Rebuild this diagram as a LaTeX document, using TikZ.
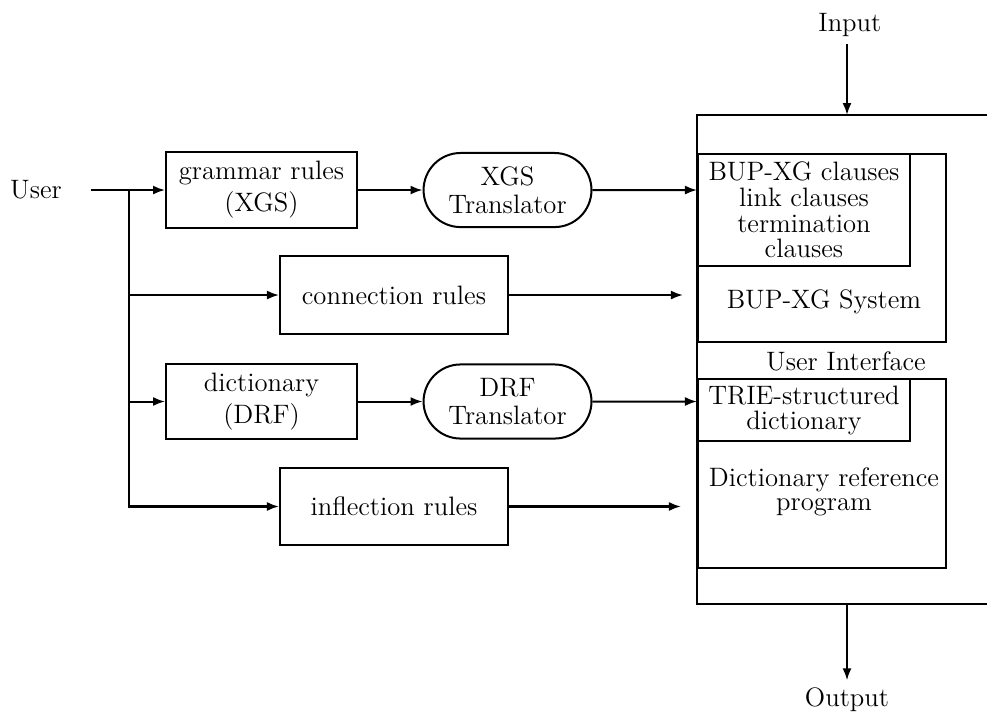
\documentclass[tikz,border=0pt]{standalone}
\usepackage{amsmath}
\usepackage{tikz}
\usetikzlibrary{arrows.meta,shapes.misc}

\begin{document}
\begin{tikzpicture}[font=\fontsize{13.3}{13}\selectfont, line width=1pt,
		>={Latex[length=6pt,width=4.5pt]},
		rulebox/.style={draw, align=center, minimum width=3.35cm, minimum height=1.32cm},
		widebox/.style={draw, align=center, minimum width=4cm, minimum height=1.36cm},
		transbox/.style={draw, rounded rectangle, align=center, minimum width=3.18cm, minimum height=1.3cm},
		subbox/.style={draw, align=center, anchor=north west, minimum width=3.72cm},
		partbox/.style={draw, anchor=north west, minimum width=4.35cm}]
		\useasboundingbox (0,0) rectangle (17.316,12.509);
		
		% left side
		\node (user) at (0.632, 9.175) {User};
		\coordinate (ustart) at (1.596, 9.175);
		\coordinate (branch) at (2.263, 9.175);
		
		\node[rulebox] (grammar) at (4.588, 9.175) {grammar rules\\[3pt](XGS)};
		\node[transbox] (xgs) at (8.904, 9.175) {XGS\\[1pt]Translator};
		\node[widebox] (conn) at (6.912, 7.333) {connection rules};
		\node[rulebox] (dict) at (4.588, 5.465) {dictionary\\[3pt](DRF)};
		\node[transbox] (drf) at (8.904, 5.465) {DRF\\[1pt]Translator};
		\node[widebox] (infl) at (6.912, 3.623) {inflection rules};
		
		% right side
		\coordinate (top) at (14.86, 10.491);
		\coordinate (bottom) at (14.86, 1.912);
		\draw (17.316, 10.491) -- (12.228, 10.491) -- (12.228, 1.912) -- (17.316, 1.912);
		
		\node[partbox, minimum height=3.3cm] (system) at (12.228, 9.825) {};
		\node[subbox, minimum height=1.965cm, font=\fontsize{13.3}{12.8}\selectfont] (clauses) at (12.228, 9.825) {BUP-XG clauses\\link clauses\\termination\\clauses};
		\node (systext) at (14.456, 7.211) {BUP-XG System};
		
		\node (ui) at (14.842, 6.175) {User Interface};
		
		\node[partbox, minimum height=3.316cm] (dictprog) at (12.228, 5.877) {};
		\node[subbox, minimum height=1.07cm, font=\fontsize{13.3}{12.5}\selectfont] (trie) at (12.228, 5.877) {TRIE-structured\\dictionary};
		\node[align=center, font=\fontsize{13.3}{12}\selectfont] (dicttext) at (14.456, 3.877) {Dictionary reference\\program};
		
		\node (input) at (14.91, 12.07) {Input};
		\node (output) at (14.86, 0.228) {Output};
		
		% connections
		\draw[->] (ustart) -- (grammar);
		\draw[->] (branch) |- (conn);
		\draw[->] (branch) |- (dict);
		\draw[->] (branch) |- (infl);
		
		\draw[->] (grammar) -- (xgs);
		\draw[->] (xgs) -- (xgs -| clauses.west);
		\draw[->, shorten >=7pt] (conn) -- (conn -| system.west);
		\draw[->] (dict) -- (drf);
		\draw[->] (drf) -- (drf -| trie.west);
		\draw[->, shorten >=8pt] (infl) -- (infl -| dictprog.west);
		
		\draw[->] (input.south -| top) -- (top);
		\draw[->] (bottom) -- (output.north -| bottom);
\end{tikzpicture}
\end{document}
